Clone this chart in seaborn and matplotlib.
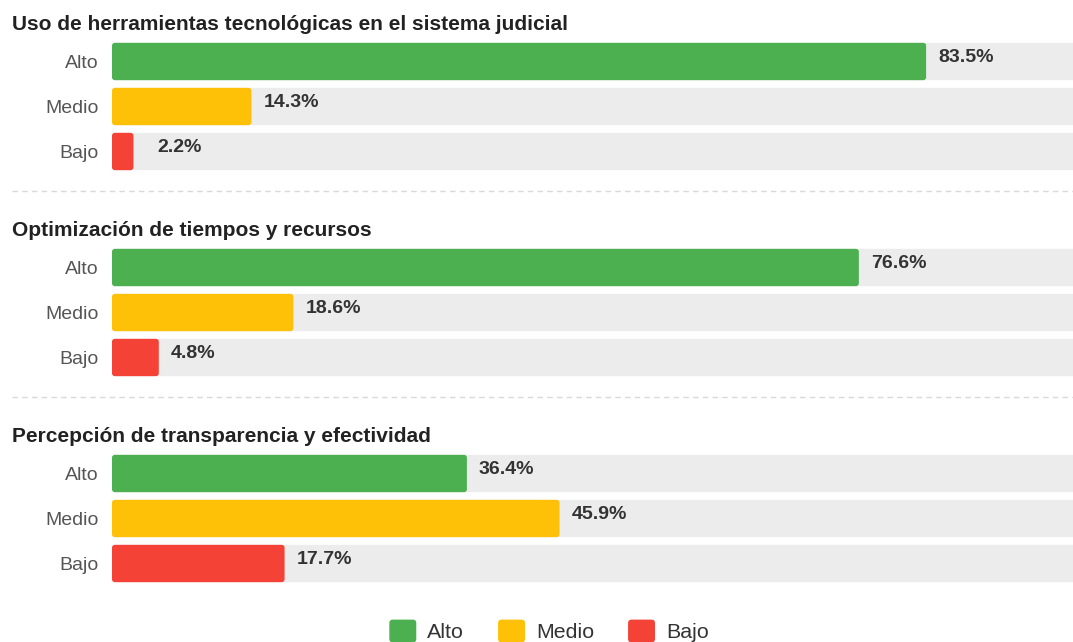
import pandas as pd
import seaborn as sns
import matplotlib.pyplot as plt
from matplotlib.patches import FancyBboxPatch, Patch
from matplotlib.legend_handler import HandlerPatch
from matplotlib.lines import Line2D

sns.set_theme(style='white')
plt.rcParams['font.family'] = ['Liberation Sans', 'DejaVu Sans']

# datos
titulos = [
    'Uso de herramientas tecnológicas en el sistema judicial',
    'Optimización de tiempos y recursos',
    'Percepción de transparencia y efectividad',
]
niveles = ['Alto', 'Medio', 'Bajo']
uso_herramientas = [83.5, 14.3, 2.2]
optimizacion = [76.6, 18.6, 4.8]
transparencia = [36.4, 45.9, 17.7]
colores = {'Alto': '#4caf50', 'Medio': '#ffc107', 'Bajo': '#f44336'}
fondo = '#ececec'

series = [uso_herramientas, optimizacion, transparencia]

W, H = 1073, 642
fig = plt.figure(figsize=(W / 100, H / 100), dpi=100)

PX_X = 9.75  # px por punto porcentual
left, right = 112, 1073
xmax = (right - left) / PX_X


def redondear(ax, r=0.3, aspect=PX_X / 45):
    # cambia los rectangulos de seaborn por cajas con esquinas redondeadas
    for p in list(ax.patches):
        x, y = p.get_x(), p.get_y()
        w, h = p.get_width(), p.get_height()
        if w <= 0:
            continue
        caja = FancyBboxPatch((x, y), w, h,
                              boxstyle=f'round,pad=0,rounding_size={min(r, w / 2)}',
                              mutation_aspect=aspect,
                              facecolor=p.get_facecolor(), edgecolor='none',
                              zorder=p.get_zorder())
        p.remove()
        ax.add_patch(caja)


class HandlerRedondo(HandlerPatch):
    def create_artists(self, legend, orig_handle, xdescent, ydescent,
                       width, height, fontsize, trans):
        caja = FancyBboxPatch((-xdescent, -ydescent), width, height,
                              boxstyle='round,pad=0,rounding_size=2.5',
                              facecolor=orig_handle.get_facecolor(),
                              edgecolor='none', transform=trans)
        return [caja]


for i, (titulo, valores) in enumerate(zip(titulos, series)):
    top = 39 + 206 * i
    ax = fig.add_axes([left / W, 1 - (top + 135) / H, (right - left) / W, 135 / H])
    df = pd.DataFrame({'nivel': niveles, 'valor': valores, 'total': 100})

    sns.barplot(data=df, x='total', y='nivel', color=fondo, width=0.83,
                saturation=1, ax=ax)
    sns.barplot(data=df, x='valor', y='nivel', hue='nivel', palette=colores,
                width=0.83, saturation=1, dodge=False, legend=False, ax=ax)
    redondear(ax)

    for j, v in enumerate(valores):
        # etiqueta a 12 px del final de la barra, con un minimo de 45 px
        x_lab = max(v * PX_X + 12, 45) / PX_X
        ax.annotate(f'{v}%', xy=(x_lab, j), xytext=(0, 3), textcoords='offset points',
                    ha='left', va='center', fontsize=14, fontweight='bold',
                    color='#333333')

    ax.set_xlim(0, xmax)
    ax.set_ylim(2.5, -0.5)
    ax.set_xlabel('')
    ax.set_ylabel('')
    ax.set_xticks([])
    ax.tick_params(axis='y', length=0, pad=9.5, labelsize=14, labelcolor='#555555')
    sns.despine(ax=ax, left=True, bottom=True)

    fig.text(12 / W, 1 - (25 + 206 * i) / H, titulo, ha='left', va='center',
             fontsize=15, fontweight='bold', color='#222222')

# separadores
for yy in [191, 397]:
    fig.add_artist(Line2D([12 / W, 1], [1 - yy / H, 1 - yy / H], color='#d9d9d9',
                          linewidth=1, linestyle=(0, (4, 3))))

handles = [Patch(facecolor=colores[n], label=n) for n in niveles]
fig.legend(handles=handles, loc='center', bbox_to_anchor=(549 / W, 11 / H),
           ncol=3, frameon=False, fontsize=15.4, handlelength=1.26,
           handleheight=1.26, handletextpad=0.51, columnspacing=1.59,
           borderaxespad=0, labelcolor='#333333',
           handler_map={Patch: HandlerRedondo()})

fig.savefig('out.png', dpi=100)
